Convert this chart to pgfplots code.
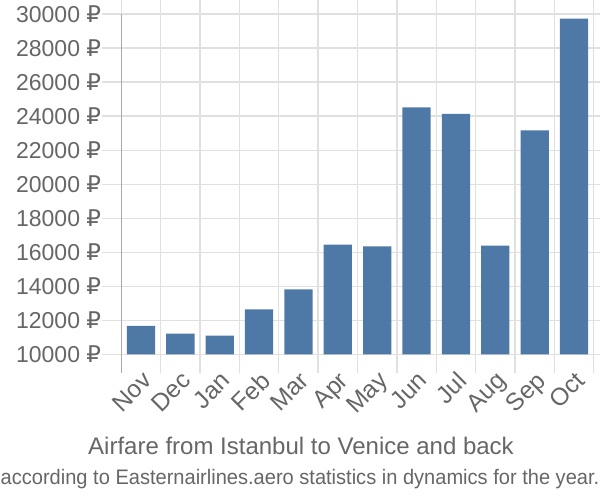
\documentclass[border=0pt]{standalone}
\usepackage{fontspec}
\setmainfont{Liberation Sans}
\newfontfamily\rubfont{DejaVu Sans}
\newcommand{\rub}{{\rubfont ₽}}
\usepackage{pgfplots}
\pgfplotsset{compat=1.18}
\definecolor{barc}{HTML}{4E79A7}
\definecolor{txt}{HTML}{666666}
\definecolor{gridc}{HTML}{E0E0E0}
\definecolor{axc}{HTML}{AAAAAA}
\begin{document}
\begin{tikzpicture}
\path[use as bounding box] (0,0) rectangle (600pt,500pt);
\begin{axis}[
 name=ax,
 at={(121.3pt,145.5pt)}, anchor=south west,
 scale only axis, width=472.4pt, height=340.5pt,
 xmin=-0.5, xmax=11.5, ymin=10000, ymax=30000,
 scaled x ticks=false, scaled y ticks=false,
 axis line style={draw=none},
 xtick={-0.5,0.5,...,11.5},
 xticklabels={},
 extra x ticks={0,1,...,11},
 extra x tick labels={Nov,Dec,Jan,Feb,Mar,Apr,May,Jun,Jul,Aug,Sep,Oct},
 extra x tick style={major tick length=0pt, grid=none,
   xticklabel style={rotate=45, anchor=north east, inner sep=0pt, xshift=-11pt, yshift=-11pt, font=\fontsize{24.5}{24.5}\selectfont}},
 ytick={10000,12000,...,30000},
 yticklabels={10000 \rub,12000 \rub,14000 \rub,16000 \rub,18000 \rub,20000 \rub,22000 \rub,24000 \rub,26000 \rub,28000 \rub,30000 \rub},
 tick align=outside,
 major tick length=19pt,
 tick style={gridc, line width=1.3pt},
 xmajorgrids, ymajorgrids,
 grid style={gridc, line width=1.3pt},
 ticklabel style={txt, font=\fontsize{23}{23}\selectfont},
 yticklabel style={inner sep=1pt},
]
\addplot[ybar, bar width=28.3pt, fill=barc, draw=none] coordinates {
 (0,11674) (1,11222) (2,11104) (3,12655) (4,13830) (5,16450)
 (6,16350) (7,24518) (8,24130) (9,16400) (10,23165) (11,29735)};
\end{axis}
\draw[axc, line width=1.5pt] (ax.north west) -- ([yshift=-19pt]ax.south west);
\node[txt, anchor=base, font=\fontsize{24}{24}\selectfont] at (301pt,45pt) {Airfare from Istanbul to Venice and back};
\node[txt, anchor=base, font=\fontsize{21}{21}\selectfont, xscale=0.955] at (300pt,15.7pt) {according to Easternairlines.aero statistics in dynamics for the year.};
\end{tikzpicture}
\end{document}
